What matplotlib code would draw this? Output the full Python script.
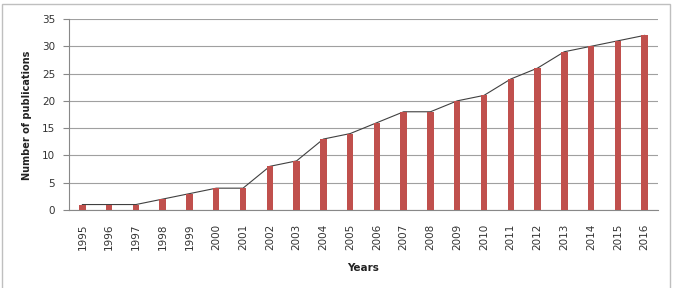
import matplotlib
matplotlib.use("Agg")
import matplotlib.pyplot as plt
from matplotlib.patches import Rectangle

years = ["1995", "1996", "1997", "1998", "1999", "2000", "2001", "2002", "2003",
         "2004", "2005", "2006", "2007", "2008", "2009", "2010", "2011", "2012",
         "2013", "2014", "2015", "2016"]
publications = [1, 1, 1, 2, 3, 4, 4, 8, 9, 13, 14, 16, 18, 18, 20, 21, 24, 26,
                 29, 30, 31, 32]
yticks = [0, 5, 10, 15, 20, 25, 30, 35]

fig = plt.figure(figsize=(6.75, 2.88), dpi=100)
fig.patch.set_facecolor("white")
ax = fig.add_axes([69/675, 1-210/288, (658-69)/675, (210-19)/288])

x = list(range(len(years)))
ax.plot(x, publications, color="#404040", lw=0.8, zorder=2)
ax.bar(x, publications, width=0.24, color="#C0504D", zorder=3)

ax.set_xlim(-0.5, len(years) - 0.5)
ax.set_ylim(0, 35)
ax.set_yticks(yticks)
ax.set_xticks(x)
ax.set_xticklabels(years, rotation=90, fontsize=7.5, color="#333333")
ax.tick_params(axis="x", length=0, pad=10)
ax.tick_params(axis="y", length=4, width=0.8, color="#888888", labelsize=7.5,
               labelcolor="#333333", pad=6)
ax.grid(axis="y", color="#A0A0A0", lw=0.8, zorder=0)
ax.set_axisbelow(True)
for s in ["top", "right"]:
    ax.spines[s].set_visible(False)
for s in ["left", "bottom"]:
    ax.spines[s].set_color("#888888")
    ax.spines[s].set_linewidth(0.8)

fig.text(27/675, 1-115/288, "Number of publications", rotation=90, fontsize=7,
         fontweight="bold", ha="center", va="center", color="#222222")
fig.text(363/675, 1-268/288, "Years", fontsize=7.5, fontweight="bold",
         ha="center", va="center", color="#222222")

frame = Rectangle((1.5/675, -0.05), (669.5-1.5)/675, 1.05 - 4.5/288,
                  transform=fig.transFigure, fill=False, ec="#BFBFBF", lw=1,
                  clip_on=False)
fig.patches.append(frame)

fig.savefig("out.png", dpi=100)
